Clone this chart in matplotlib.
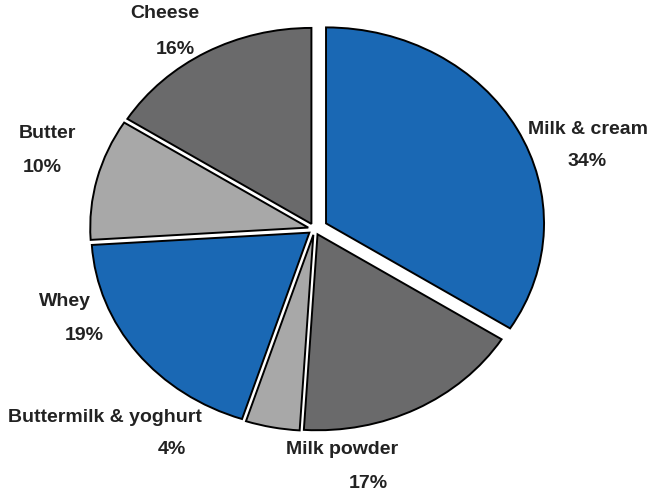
import matplotlib.pyplot as plt

plt.rcParams['font.family'] = ['Liberation Sans', 'DejaVu Sans']

# data (clockwise from 12 o'clock)
categories = ['Milk & cream', 'Milk powder', 'Buttermilk & yoghurt', 'Whey', 'Butter', 'Cheese']
shares = [34, 17, 4, 19, 10, 16]
pct_labels = ['34%', '17%', '4%', '19%', '10%', '16%']

colors = ['#1a68b4', '#6a6a6b', '#a8a8a8', '#1a68b4', '#a8a8a8', '#6a6a6b']
explode = [0.06, 0.03, 0.03, 0.03, 0.03, 0.03]

fig = plt.figure(figsize=(6.5, 4.93), dpi=100)
ax = fig.add_axes([0.0815, 0.0584, 0.8049, 0.954])
ax.pie(shares, colors=colors, explode=explode, startangle=90, counterclock=False,
       wedgeprops=dict(edgecolor='black', linewidth=1.4))
ax.set_aspect('auto')
ax.set_xlim(-1.2, 1.2)
ax.set_ylim(-1.2, 1.2)
ax.axis('off')

# label positions in pixels (name x, name y, pct x, pct y)
label_pos = [
    (588, 130, 587, 162),
    (342, 449, 368, 483),
    (105, 417, 172, 450),
    (65, 302, 84, 335),
    (47, 133, 42, 168),
    (165, 14, 175, 50),
]
W, H = 650, 493
for name, pct, (nx, ny, px, py) in zip(categories, pct_labels, label_pos):
    fig.text(nx / W, 1 - ny / H, name, ha='center', va='center',
             fontsize=14, fontweight='bold', color='#222222')
    fig.text(px / W, 1 - py / H, pct, ha='center', va='center',
             fontsize=14, fontweight='bold', color='#222222')

fig.savefig('out.png', dpi=100)
